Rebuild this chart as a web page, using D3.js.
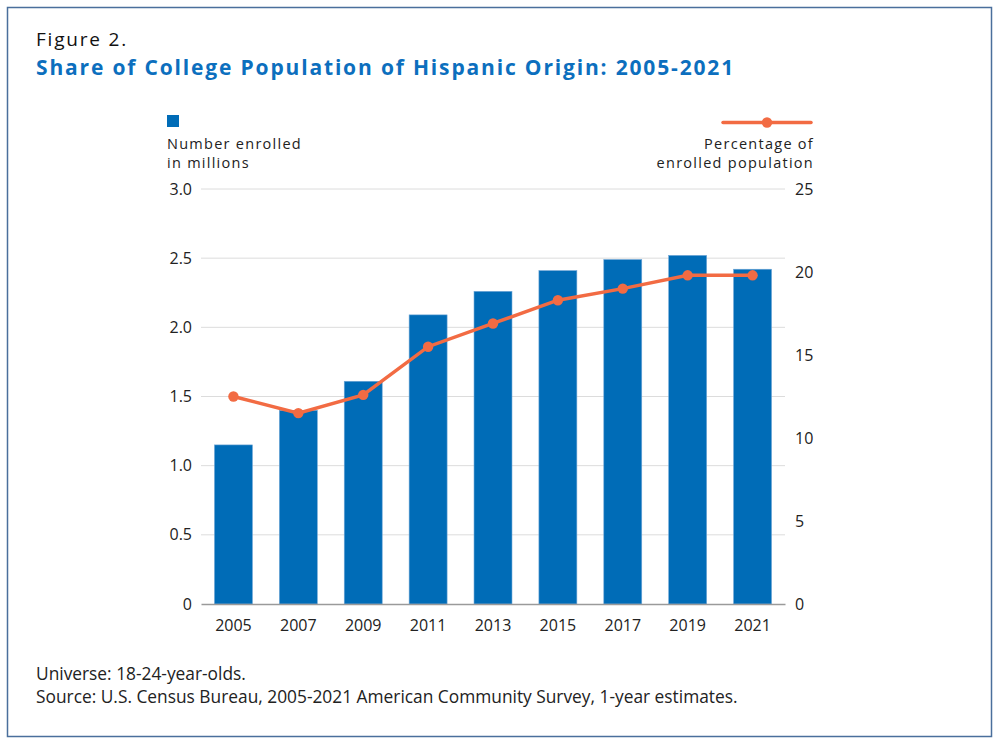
<!DOCTYPE html>
<html><head><meta charset="utf-8">
<script src="https://cdn.jsdelivr.net/npm/d3@7"></script>
<style>
body{margin:0;background:#fff;}
svg text{font-family:"Open Sans",sans-serif;}
</style></head>
<body><svg id="c" width="1000" height="745"></svg>
<script>
const years = ["2005","2007","2009","2011","2013","2015","2017","2019","2021"];
const enrolled = [1.15,1.40,1.61,2.09,2.26,2.41,2.49,2.52,2.42];
const percent = [12.5,11.5,12.6,15.5,16.9,18.3,19.0,19.8,19.8];
const leftTicks = [0,0.5,1.0,1.5,2.0,2.5,3.0];
const rightTicks = [0,5,10,15,20,25];

const svg = d3.select("#c");
const blue = "#006cb7", orange = "#f26b43", textC = "#222";
const F = "'Open Sans',sans-serif";
svg.append("rect").attr("x",7.5).attr("y",7.5).attr("width",984).attr("height",729)
  .attr("fill","#fff").attr("stroke","#4a6f9c").attr("stroke-width",1.5);

function fit(sel, w){
  const fs = +sel.attr("font-size");
  const l = sel.node().getComputedTextLength();
  sel.attr("font-size", (fs*w/l).toFixed(2));
  return sel;
}
function spread(sel, w){
  const l = sel.node().getComputedTextLength();
  const n = sel.text().length;
  sel.attr("letter-spacing", ((w-l)/n).toFixed(3));
  return sel;
}

spread(svg.append("text").attr("x",36).attr("y",46).attr("font-size",19).attr("fill","#111").text("Figure 2."), 92);
spread(svg.append("text").attr("x",36).attr("y",75).attr("font-size",21).attr("font-weight","bold").attr("fill","#0c6fbe")
  .text("Share of College Population of Hispanic Origin: 2005-2021"), 699);

const x0=201, x1=785, yTop=189, yBot=604;
const x = d3.scaleBand().domain(years).range([x0,x1]).paddingInner(0.415).paddingOuter(0.2075);
const yL = d3.scaleLinear().domain([0,3]).range([yBot,yTop]);
const yR = d3.scaleLinear().domain([0,25]).range([yBot,yTop]);

svg.append("g").selectAll("line").data(leftTicks.filter(d=>d>0)).join("line")
  .attr("x1",x0).attr("x2",x1).attr("y1",d=>yL(d)).attr("y2",d=>yL(d))
  .attr("stroke","#dcdcdc").attr("stroke-width",1);

const la = svg.append("g").attr("transform",`translate(${x0},0)`)
  .call(d3.axisLeft(yL).tickValues(leftTicks).tickSize(0).tickPadding(9).tickFormat(d=>d===0?"0":d3.format(".1f")(d)));
la.select(".domain").remove();
la.selectAll("text").attr("font-size",16).attr("fill",textC).attr("font-family",F);

const ra = svg.append("g").attr("transform",`translate(${x1},0)`)
  .call(d3.axisRight(yR).tickValues(rightTicks).tickSize(0).tickPadding(10).tickFormat(d3.format("d")));
ra.select(".domain").remove();
ra.selectAll("text").attr("font-size",16).attr("fill",textC).attr("font-family",F);

svg.append("g").selectAll("rect").data(years).join("rect")
  .attr("x",d=>x(d)).attr("width",x.bandwidth())
  .attr("y",(d,i)=>yL(enrolled[i])).attr("height",(d,i)=>yBot-yL(enrolled[i]))
  .attr("fill",blue).attr("stroke","#6fa6d6").attr("stroke-width",0.6);

const xa = svg.append("g").attr("transform",`translate(0,${yBot})`)
  .call(d3.axisBottom(x).tickSize(0).tickPadding(16));
xa.select(".domain").attr("stroke","#9a9a9a").attr("stroke-width",1.5);
xa.selectAll("text").attr("font-size",16).attr("fill",textC).attr("font-family",F);

const cx = d=>x(d)+x.bandwidth()/2;
svg.append("path").datum(years)
  .attr("d",d3.line().x(d=>cx(d)).y((d,i)=>yR(percent[i])))
  .attr("fill","none").attr("stroke",orange).attr("stroke-width",3.5);
svg.append("g").selectAll("circle").data(years).join("circle")
  .attr("cx",d=>cx(d)).attr("cy",(d,i)=>yR(percent[i])).attr("r",5.2).attr("fill",orange);

const LF = 14.5;
svg.append("rect").attr("x",167).attr("y",115).attr("width",12).attr("height",12).attr("fill",blue);
const ne = spread(svg.append("text").attr("x",167).attr("y",149).attr("font-size",LF).attr("fill",textC).text("Number enrolled"),135);
const ls = ne.attr("letter-spacing");
svg.append("text").attr("x",167).attr("y",168).attr("font-size",LF).attr("letter-spacing",ls).attr("fill",textC).text("in millions");
svg.append("line").attr("x1",723).attr("x2",811).attr("y1",122.5).attr("y2",122.5).attr("stroke",orange).attr("stroke-width",3.5).attr("stroke-linecap","round");
svg.append("circle").attr("cx",767).attr("cy",122.5).attr("r",5.2).attr("fill",orange);
svg.append("text").attr("x",814).attr("y",149).attr("text-anchor","end").attr("font-size",LF).attr("letter-spacing",ls).attr("fill",textC).text("Percentage of");
svg.append("text").attr("x",814).attr("y",168).attr("text-anchor","end").attr("font-size",LF).attr("letter-spacing",ls).attr("fill",textC).text("enrolled population");

const src = fit(svg.append("text").attr("x",36).attr("y",703).attr("font-size",15.5).attr("fill",textC).text("Source: U.S. Census Bureau, 2005-2021 American Community Survey, 1-year estimates."),702);
svg.append("text").attr("x",36).attr("y",680).attr("font-size",src.attr("font-size")).attr("fill",textC).text("Universe: 18-24-year-olds.");
</script></body></html>
